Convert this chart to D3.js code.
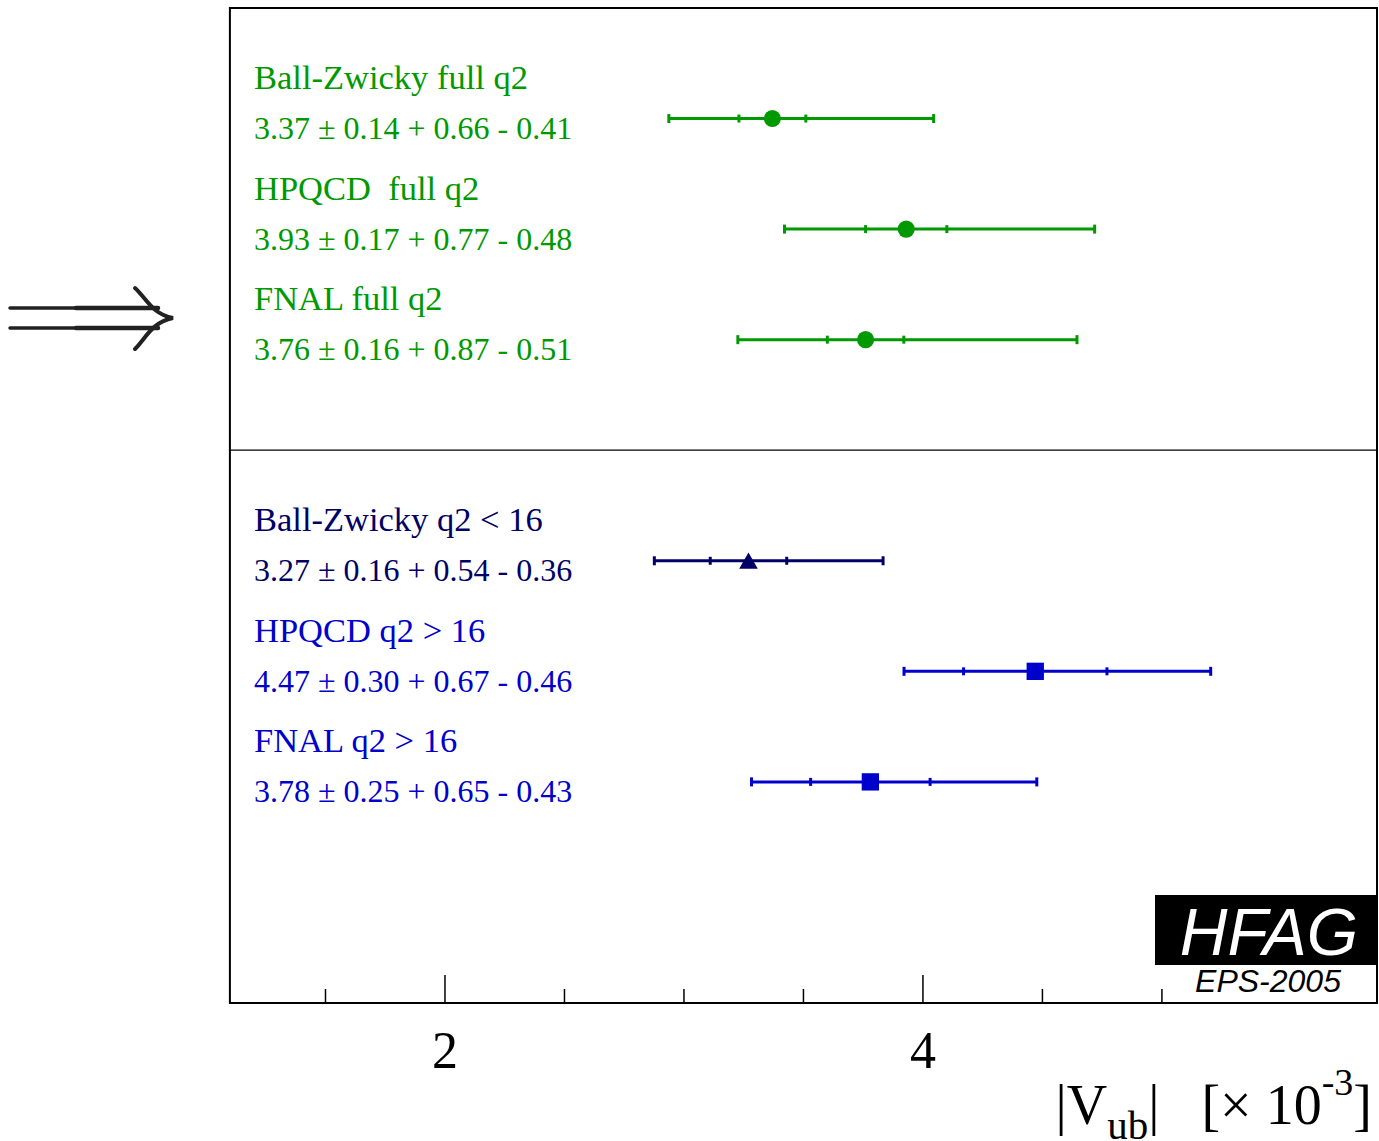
<!DOCTYPE html>
<html>
<head>
<meta charset="utf-8">
<script src="https://cdn.jsdelivr.net/npm/d3@7"></script>
<style>
  html, body { margin: 0; padding: 0; background: #fff; }
  svg { display: block; }
</style>
</head>
<body>
<script>
// |Vub| determinations from B -> pi l nu with different form-factor calculations
const titles   = ["Ball-Zwicky full q2", "HPQCD\u00a0 full q2", "FNAL full q2",
                  "Ball-Zwicky q2 < 16", "HPQCD q2 > 16", "FNAL q2 > 16"];
const centrals = [3.37, 3.93, 3.76, 3.27, 4.47, 3.78];
const statErr  = [0.14, 0.17, 0.16, 0.16, 0.30, 0.25];
const systUp   = [0.66, 0.77, 0.87, 0.54, 0.67, 0.65];
const systDown = [0.41, 0.48, 0.51, 0.36, 0.46, 0.43];
const rowIndex = [0, 1, 2, 4, 5, 6];
const markers  = ["circle", "circle", "circle", "triangle", "square", "square"];
const colors   = ["#009900", "#009900", "#009900", "#000066", "#0000cc", "#0000cc"];
const majorTicks = [2, 4];
const minorTicks = [1.5, 2.5, 3, 3.5, 4.5, 5];

const W = 1379, H = 1141;
const SERIF = "Liberation Serif, Times New Roman, serif";
const svg = d3.select("body").append("svg").attr("width", W).attr("height", H);

const x = d3.scaleLinear().domain([1.1, 5.9]).range([229.9, 1377]);
const y = d3.scaleLinear().domain([-1, 8]).range([8, 1003]);

// frame
svg.append("rect")
  .attr("x", x(1.1)).attr("y", y(-1))
  .attr("width", x(5.9) - x(1.1)).attr("height", y(8) - y(-1))
  .attr("fill", "none").attr("stroke", "#000").attr("stroke-width", 2);

// separator between full-range and partial-range results
svg.append("line")
  .attr("x1", x(1.1)).attr("x2", x(5.9))
  .attr("y1", y(3)).attr("y2", y(3))
  .attr("stroke", "#000").attr("stroke-width", 1.3);

// x axis: ticks pointing up into the frame
const axisG = svg.append("g").attr("transform", `translate(0,${y(8)})`);
axisG.selectAll("line.minor").data(minorTicks).join("line")
  .attr("x1", d => x(d)).attr("x2", d => x(d))
  .attr("y1", 0).attr("y2", -14)
  .attr("stroke", "#000").attr("stroke-width", 1.5);
axisG.selectAll("line.major").data(majorTicks).join("line")
  .attr("x1", d => x(d)).attr("x2", d => x(d))
  .attr("y1", 0).attr("y2", -28)
  .attr("stroke", "#000").attr("stroke-width", 1.5);
axisG.selectAll("text").data(majorTicks).join("text")
  .attr("x", d => x(d)).attr("y", 65)
  .attr("text-anchor", "middle")
  .attr("font-family", SERIF)
  .attr("font-size", 52)
  .text(d => d3.format("d")(d));

// axis title
const at = svg.append("text")
  .attr("x", 1372).attr("y", 1124)
  .attr("text-anchor", "end")
  .attr("font-family", SERIF)
  .attr("font-size", 56);
at.append("tspan").text("|V");
at.append("tspan").attr("dy", 15).attr("font-size", 41).text("ub");
at.append("tspan").attr("dy", -15).text("|\u00a0\u00a0 [\u00d7 10");
at.append("tspan").attr("dy", -29).attr("font-size", 38).text("-3");
at.append("tspan").attr("dy", 29).text("]");

// measurements
const total = (s, e) => Math.sqrt(s * s + e * e);
const rows = centrals.map((c, i) => ({
  c, s: statErr[i], up: systUp[i], dn: systDown[i],
  row: rowIndex[i], title: titles[i], marker: markers[i], color: colors[i]
}));

const g = svg.selectAll("g.meas").data(rows).join("g").attr("class", "meas");

g.append("text")
  .attr("x", 254).attr("y", d => y(d.row) - 29.5)
  .attr("font-family", SERIF)
  .attr("font-size", 34.5).attr("fill", d => d.color)
  .text(d => d.title);

g.append("text")
  .attr("x", 254).attr("y", d => y(d.row) + 20.5)
  .attr("font-family", SERIF)
  .attr("font-size", 32).attr("fill", d => d.color)
  .text(d => `${d.c.toFixed(2)} \u00b1 ${d.s.toFixed(2)} + ${d.up.toFixed(2)} - ${d.dn.toFixed(2)}`);

// total error bar
g.append("line")
  .attr("x1", d => x(d.c - total(d.s, d.dn))).attr("x2", d => x(d.c + total(d.s, d.up)))
  .attr("y1", d => y(d.row)).attr("y2", d => y(d.row))
  .attr("stroke", d => d.color).attr("stroke-width", 3);

// end caps (total) and stat ticks, then the central-value marker
g.each(function(d) {
  const gg = d3.select(this);
  const yy = y(d.row);
  const ends = [d.c - total(d.s, d.dn), d.c + total(d.s, d.up)];
  const stats = [d.c - d.s, d.c + d.s];
  gg.selectAll("line.cap").data(ends).join("line").attr("class", "cap")
    .attr("x1", v => x(v)).attr("x2", v => x(v))
    .attr("y1", yy - 4.5).attr("y2", yy + 4.5)
    .attr("stroke", d.color).attr("stroke-width", 3);
  gg.selectAll("line.stat").data(stats).join("line").attr("class", "stat")
    .attr("x1", v => x(v)).attr("x2", v => x(v))
    .attr("y1", yy - 4).attr("y2", yy + 4)
    .attr("stroke", d.color).attr("stroke-width", 3);

  const sym = { circle: d3.symbolCircle, triangle: d3.symbolTriangle, square: d3.symbolSquare }[d.marker];
  const size = { circle: 230, triangle: 150, square: 300 }[d.marker];
  const dy = d.marker === "triangle" ? 2.5 : 0;
  gg.append("path")
    .attr("d", d3.symbol().type(sym).size(size)())
    .attr("transform", `translate(${x(d.c)},${yy + dy})`)
    .attr("fill", d.color);
});

// HFAG stamp
svg.append("rect")
  .attr("x", 1155).attr("y", 895).attr("width", 223).attr("height", 70)
  .attr("fill", "#000");
svg.append("text")
  .attr("x", 1269).attr("y", 955).attr("text-anchor", "middle")
  .attr("font-family", "Liberation Sans, Arial, sans-serif")
  .attr("font-style", "italic").attr("font-size", 66).attr("fill", "#fff")
  .text("HFAG");
svg.append("text")
  .attr("x", 1268).attr("y", 992).attr("text-anchor", "middle")
  .attr("font-family", "Liberation Sans, Arial, sans-serif")
  .attr("font-style", "italic").attr("font-size", 32).attr("fill", "#000")
  .text("EPS-2005");

// double arrow pointing at the full-q2 results
const arrow = svg.append("g")
  .attr("fill", "none").attr("stroke", "#222")
  .attr("stroke-linecap", "round");
arrow.append("path").attr("d", "M10,308 L78,308 M10,328 L78,328").attr("stroke-width", 3.5);
arrow.append("path").attr("d", "M76,308 L158,308 M76,328 L158,328").attr("stroke-width", 4.5);
arrow.append("path").attr("stroke-width", 4)
  .attr("d", "M135,288 C146,298 152,314 173,318 C152,322 146,338 135,349");
</script>
</body>
</html>
